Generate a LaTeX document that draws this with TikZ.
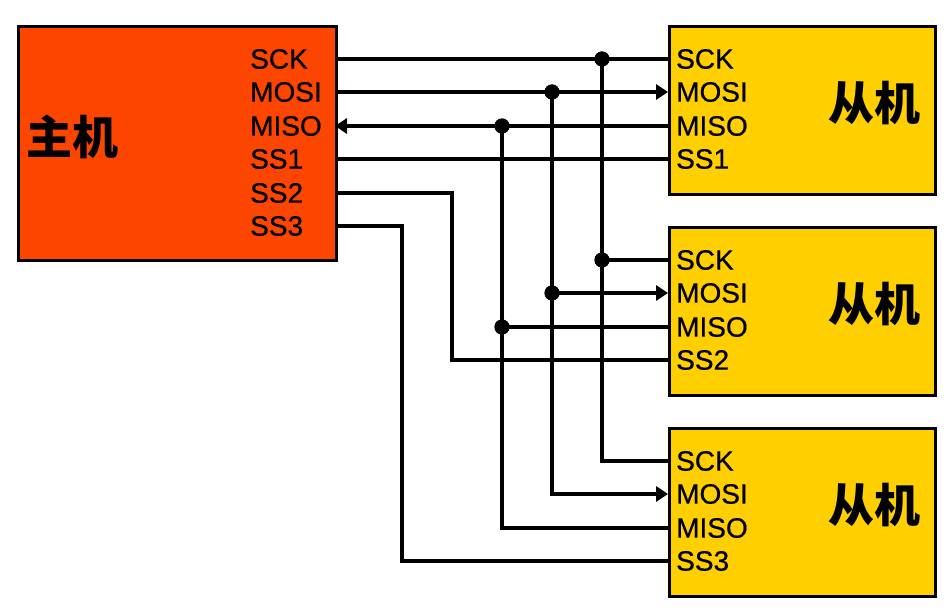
\documentclass[tikz,border=0pt]{standalone}
\usepackage{fontspec}
\setmainfont{Liberation Sans}
\newfontfamily\pinfont{Liberation Sans}[FakeBold=0.6]
\newfontfamily\cjk{Noto Sans CJK SC}
\usetikzlibrary{arrows.meta}
\definecolor{mastercol}{HTML}{FC4600}
\definecolor{slavecol}{HTML}{FFCF00}
\tikzset{
  wire/.style={line width=3.4pt},
  arr/.style={wire,-{Triangle[length=12pt,width=15pt]}},
  box/.style={draw=black,line width=3.4pt,inner sep=0pt,anchor=north west},
  pin/.style={font=\pinfont\fontsize{28}{28}\selectfont,anchor=west,inner sep=0pt},
  title/.style={font=\cjk\bfseries\fontsize{46}{46}\selectfont,inner sep=0pt},
  jdot/.style={circle,fill=black,inner sep=0pt,minimum size=15pt},
}
\begin{document}
\begin{tikzpicture}[x=1pt,y=-1pt]
\useasboundingbox (0,0) rectangle (950,609);
% boxes
\node[box,fill=mastercol,minimum width=318pt,minimum height=234pt] (M) at (17,25) {};
\node[box,fill=slavecol,minimum width=266pt,minimum height=168pt] (S1) at (668,25) {};
\node[box,fill=slavecol,minimum width=266pt,minimum height=168pt] (S2) at (668,226) {};
\node[box,fill=slavecol,minimum width=266pt,minimum height=168pt] (S3) at (668,427) {};
% master pins
\coordinate (mSCK) at (335,59);
\coordinate (mMOSI) at (335,92);
\coordinate (mMISO) at (335,126);
\coordinate (mSS1) at (335,159);
\coordinate (mSS2) at (335,193);
\coordinate (mSS3) at (335,226);
% slave pins
\foreach \s/\t in {1/25,2/226,3/427}{
  \coordinate (s\s SCK) at (668,\t+34);
  \coordinate (s\s MOSI) at (668,\t+67);
  \coordinate (s\s MISO) at (668,\t+101);
  \coordinate (s\s SS) at (668,\t+134);
}
% junctions
\node[jdot] (j1) at (602,59) {};
\node[jdot] (j2) at (602,260) {};
\node[jdot] (j3) at (552,92) {};
\node[jdot] (j4) at (552,293) {};
\node[jdot] (j5) at (502,126) {};
\node[jdot] (j6) at (502,327) {};
% wires
\draw[wire] (mSCK) -- (s1SCK);
\draw[wire] (j1.center) |- (s3SCK);
\draw[wire] (j2.center) -- (s2SCK);
\draw[arr] (mMOSI) -- (s1MOSI);
\draw[arr] (j3.center) |- (s3MOSI);
\draw[arr] (j4.center) -- (s2MOSI);
\draw[arr] (s1MISO) -- (mMISO);
\draw[wire] (j5.center) |- (s3MISO);
\draw[wire] (j6.center) -- (s2MISO);
\draw[wire] (mSS1) -- (s1SS);
\draw[wire] (mSS2) -- ++(117,0) |- (s2SS);
\draw[wire] (mSS3) -- ++(67,0) |- (s3SS);
% redraw dots on top
\foreach \j in {j1,j2,j3,j4,j5,j6}{\fill (\j) circle (7.5pt);}
% master labels
\node[title] (mt) at (72,137) {主机};
\node[pin] (l1) at (250,59) {SCK};
\node[pin] (l2) at (250,92) {MOSI};
\node[pin] (l3) at (250,126) {MISO};
\node[pin] (l4) at (250,159) {SS1};
\node[pin] (l5) at (250,193) {SS2};
\node[pin] (l6) at (250,226) {SS3};
% slave labels
\foreach \s/\t/\n in {1/25/SS1,2/226/SS2,3/427/SS3}{
  \node[title] (st\s) at (874,\t+78) {从机};
  \node[pin] (p\s a) at (676,\t+34) {SCK};
  \node[pin] (p\s b) at (676,\t+67) {MOSI};
  \node[pin] (p\s c) at (676,\t+101) {MISO};
  \node[pin] (p\s d) at (676,\t+134) {\n};
}
\end{tikzpicture}
\end{document}
